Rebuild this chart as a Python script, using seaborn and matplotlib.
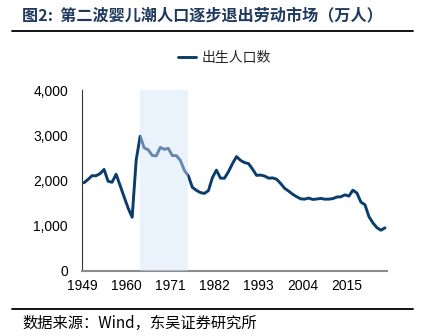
import numpy as np
import pandas as pd
import matplotlib
matplotlib.use("Agg")
import matplotlib.pyplot as plt
from matplotlib.lines import Line2D
from matplotlib.ticker import FuncFormatter
import seaborn as sns

# Annual births in China, 10k persons
years = list(range(1949, 2025))
births = [
    1950, 2023, 2107, 2105, 2151, 2245, 1984, 1961, 2138, 1889,
    1635, 1389, 1188, 2451, 2980, 2721, 2679, 2554, 2543, 2731,
    2690, 2710, 2551, 2550, 2447, 2226, 2102, 1849, 1783, 1733,
    1715, 1776, 2064, 2230, 2052, 2050, 2196, 2374, 2529, 2445,
    2396, 2374, 2250, 2113, 2120, 2098, 2052, 2057, 2028, 1934,
    1827, 1765, 1696, 1641, 1594, 1588, 1612, 1581, 1591, 1604,
    1587, 1588, 1600, 1635, 1640, 1683, 1655, 1786, 1723, 1523,
    1465, 1202, 1062, 956, 902, 954,
]
tick_years = [1949, 1960, 1971, 1982, 1993, 2004, 2015]
boom_start, boom_end = 1963, 1975

series_name = "出生人口数"
title_text = "图2:  第二波婴儿潮人口逐步退出劳动市场（万人）"
source_text = "数据来源：Wind，东吴证券研究所"

sns.set_style("white")
plt.rcParams["font.family"] = ["Liberation Sans", "Noto Sans CJK SC", "DejaVu Sans"]

df = pd.DataFrame({"year": years, "births": births})
# each year sits in the middle of its slot on the axis
df["xpos"] = df["year"] + 0.5

fig = plt.figure(figsize=(4.21, 3.36), dpi=100)
ax = fig.add_axes([82 / 421, 1 - 271 / 336, (387 - 82) / 421, (271 - 90) / 336])

line_color = "#0a3d6e"
sns.lineplot(data=df, x="xpos", y="births", ax=ax, color=line_color,
             linewidth=2.1, label=series_name, legend=False, zorder=2)

# baby-boom period, laid over the line
ax.axvspan(boom_start + 0.5, boom_end + 0.5, color="#d2e6f8", alpha=0.45,
           linewidth=0, zorder=3)

ax.set_xlim(1949, 2025)
ax.set_ylim(0, 4000)
ax.set_xticks(tick_years)
ax.set_yticks([0, 1000, 2000, 3000, 4000])
ax.yaxis.set_major_formatter(FuncFormatter(lambda v, p: f"{int(v):,}"))
ax.set_xlabel("")
ax.set_ylabel("")

for s in ["top", "right"]:
    ax.spines[s].set_visible(False)
ax.spines["left"].set_color("#333333")
ax.spines["left"].set_linewidth(0.8)
ax.spines["bottom"].set_color("#8c8c8c")
ax.spines["bottom"].set_linewidth(1.5)
ax.tick_params(axis="y", direction="out", length=4, width=0.8, color="#333333",
               labelsize=10, labelcolor="black", pad=6)
ax.tick_params(axis="x", direction="out", length=3, width=0.8, color="#555555",
               labelsize=10, labelcolor="black", pad=3)

handle = Line2D([0], [0], color=line_color, linewidth=2.1)
fig.legend([handle], [series_name], loc="center left",
           bbox_to_anchor=(178 / 421, 1 - 58 / 336), frameon=False,
           handlelength=1.3, handletextpad=0.4, borderpad=0, borderaxespad=0,
           prop={"family": ["Noto Sans CJK SC"], "size": 10})

fig.text(22 / 421, 1 - 15 / 336, title_text, ha="left", va="center",
         fontsize=11.6, fontweight="bold", color="#1f3a5f",
         family=["Noto Sans CJK SC", "DejaVu Sans"])
fig.add_artist(Line2D([12 / 421, 413 / 421], [1 - 31 / 336, 1 - 31 / 336],
                      color="black", linewidth=1.3))
fig.add_artist(Line2D([12 / 421, 413 / 421], [1 - 309 / 336, 1 - 309 / 336],
                      color="black", linewidth=1.3))
fig.text(22 / 421, 1 - 323 / 336, source_text, ha="left", va="center",
         fontsize=11, color="black", family=["Noto Sans CJK SC", "DejaVu Sans"])

fig.savefig("out.png", dpi=100)
